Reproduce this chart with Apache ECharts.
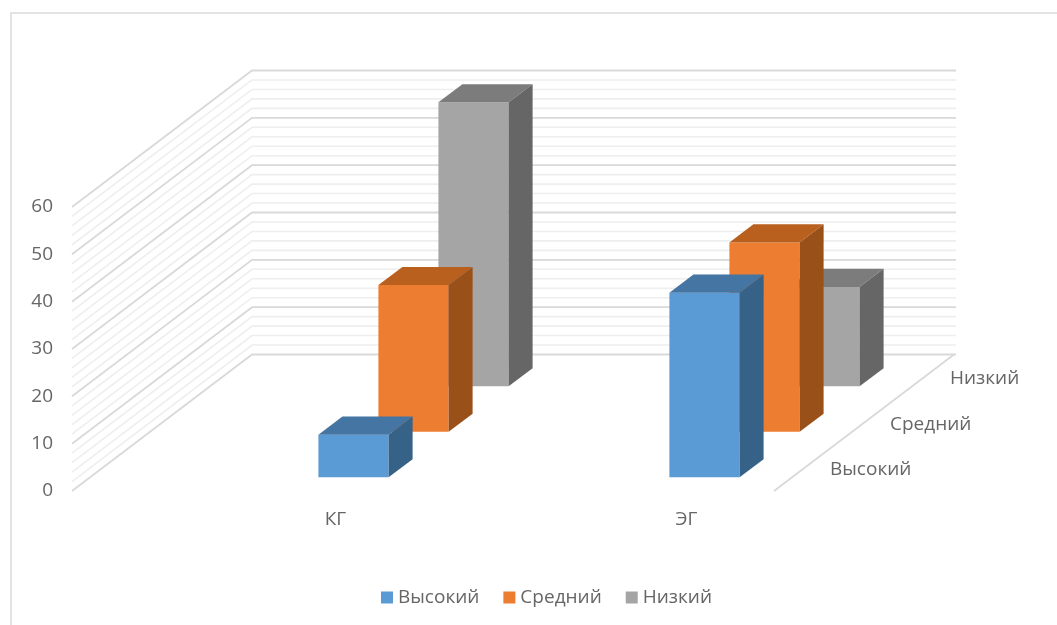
<!DOCTYPE html>
<html>
<head>
<meta charset="utf-8">
<title>Уровни по группам</title>
<script src="https://cdn.jsdelivr.net/npm/echarts@6/dist/echarts.min.js"></script>
<style>
  html, body { margin: 0; padding: 0; background: #fff; }
  #frame { position: absolute; left: 10px; top: 12px; right: 0; bottom: 0;
           border-left: 2px solid #e3e3e3; border-top: 2px solid #e3e3e3; }
  #chart { position: absolute; left: 0; top: 0; width: 1057px; height: 625px; }
</style>
</head>
<body>
<div id="frame"></div>
<div id="chart"></div>
<script>
// Groups, levels and the percentage of each level in each group
const categories = ['КГ', 'ЭГ'];
const levels = ['Высокий', 'Средний', 'Низкий'];
const highValues = [9, 39];
const middleValues = [31, 40];
const lowValues = [60, 21];
const gridValues = [0, 2, 4, 6, 8, 10, 12, 14, 16, 18, 20, 22, 24, 26, 28, 30,
                    32, 34, 36, 38, 40, 42, 44, 46, 48, 50, 52, 54, 56, 58, 60];

// Oblique projection: one depth row moves a point right and up by these steps
const ROW_DX = 60;
const ROW_DY = -45.5;
const WALL_SHIFT = 88;   // the walls start this far left of the category axis
const BAR_WIDTH = 0.2;   // share of a category band
const BAR_FRONT = 0.3;   // bar occupies this span of its depth row
const BAR_BACK = 0.7;

const TEXT_COLOR = '#666666';
const FONT = '"Open Sans", sans-serif';
const FONT_SIZE = 19;

const palette = [
  { front: '#5b9bd5', top: '#4575a2', side: '#366288' },
  { front: '#ed7d31', top: '#b9601f', side: '#9a5119' },
  { front: '#a5a5a5', top: '#7c7c7c', side: '#666666' }
];

// One cuboid: front face, lid and right side, projected from its depth row
function barRenderer(row) {
  return function (params, api) {
    const base = api.coord([api.value(0), 0]);
    const head = api.coord([api.value(0), api.value(1)]);
    const half = api.size([1, 0])[0] * BAR_WIDTH / 2;
    const c = palette[row];
    const xf = base[0] - half + (row + BAR_FRONT) * ROW_DX;
    const xr = base[0] + half + (row + BAR_FRONT) * ROW_DX;
    const dy0 = (row + BAR_FRONT) * ROW_DY;
    const ddx = (BAR_BACK - BAR_FRONT) * ROW_DX;
    const ddy = (BAR_BACK - BAR_FRONT) * ROW_DY;
    const yb = base[1] + dy0;
    const yt = head[1] + dy0;
    return {
      type: 'group',
      children: [
        { type: 'polygon', shape: { points: [[xf, yb], [xr, yb], [xr, yt], [xf, yt]] },
          style: { fill: c.front } },
        { type: 'polygon', shape: { points: [[xf, yt], [xr, yt], [xr + ddx, yt + ddy], [xf + ddx, yt + ddy]] },
          style: { fill: c.top } },
        { type: 'polygon', shape: { points: [[xr, yb], [xr + ddx, yb + ddy], [xr + ddx, yt + ddy], [xr, yt]] },
          style: { fill: c.side } }
      ]
    };
  };
}

// A gridline running along the side wall and then across the back wall
function wallLine(params, api) {
  const value = api.value(1);
  const y = api.coord([0, value])[1];
  const x0 = params.coordSys.x - WALL_SHIFT;
  const depthX = ROW_DX * levels.length;
  const depthY = ROW_DY * levels.length;
  const major = value % 10 === 0;
  return {
    type: 'polyline',
    shape: { points: [[x0, y], [x0 + depthX, y + depthY], [x0 + depthX + params.coordSys.width + 2, y + depthY]] },
    style: { fill: null, stroke: major ? '#d9d9d9' : '#eeeeee', lineWidth: major ? 1.8 : 1.6 }
  };
}

// Floor edge on the right with the level names beside it
function depthAxis(params, api) {
  const row = api.value(0);
  const cs = params.coordSys;
  const x0 = cs.x - WALL_SHIFT + cs.width;
  const y0 = api.coord([0, 0])[1];
  const children = [{
    type: 'text',
    style: {
      text: levels[row],
      x: x0 + (row + 0.5) * ROW_DX + 26,
      y: y0 + (row + 0.5) * ROW_DY + 1.5,
      fill: TEXT_COLOR, font: FONT_SIZE + 'px ' + FONT,
      textAlign: 'left', textVerticalAlign: 'middle'
    }
  }];
  if (row === 0) {
    children.push({
      type: 'line',
      shape: { x1: x0, y1: y0, x2: x0 + levels.length * ROW_DX, y2: y0 + levels.length * ROW_DY },
      style: { stroke: '#d9d9d9', lineWidth: 1.8 }
    });
  }
  return { type: 'group', children };
}

function barSeries(name, values, row) {
  return {
    type: 'custom',
    name,
    z: 5 - row,
    silent: true,
    itemStyle: { color: palette[row].front },
    encode: { x: 0, y: 1 },
    renderItem: barRenderer(row),
    data: values.map((v, i) => [i, v])
  };
}

const chart = echarts.init(document.getElementById('chart'), null, { renderer: 'canvas' });
chart.setOption({
  animation: false,
  backgroundColor: 'transparent',
  grid: { left: 160, top: 207, width: 702, height: 284 },
  xAxis: {
    type: 'category',
    data: categories,
    axisLine: { show: false },
    axisTick: { show: false },
    splitLine: { show: false },
    axisLabel: { color: TEXT_COLOR, fontFamily: FONT, fontSize: FONT_SIZE, margin: 19 }
  },
  yAxis: {
    type: 'value',
    min: 0,
    max: 60,
    interval: 10,
    offset: WALL_SHIFT,
    axisLine: { show: false },
    axisTick: { show: false },
    splitLine: { show: false },
    axisLabel: { color: TEXT_COLOR, fontFamily: FONT, fontSize: FONT_SIZE, margin: 19, padding: [3, 0, 0, 0] }
  },
  legend: {
    data: levels,
    left: 381,
    top: 588,
    padding: 0,
    icon: 'rect',
    itemWidth: 12,
    itemHeight: 12,
    itemGap: 24,
    selectedMode: false,
    textStyle: { color: TEXT_COLOR, fontFamily: FONT, fontSize: FONT_SIZE }
  },
  series: [
    {
      type: 'custom', name: 'walls', z: 1, silent: true,
      encode: { x: 0, y: 1 }, renderItem: wallLine,
      data: gridValues.map(v => [0, v])
    },
    {
      type: 'custom', name: 'depth', z: 2, silent: true,
      encode: { x: 0, y: 1 }, renderItem: depthAxis,
      data: levels.map((_, i) => [i, 0])
    },
    barSeries(levels[2], lowValues, 2),
    barSeries(levels[1], middleValues, 1),
    barSeries(levels[0], highValues, 0)
  ]
});
</script>
</body>
</html>
